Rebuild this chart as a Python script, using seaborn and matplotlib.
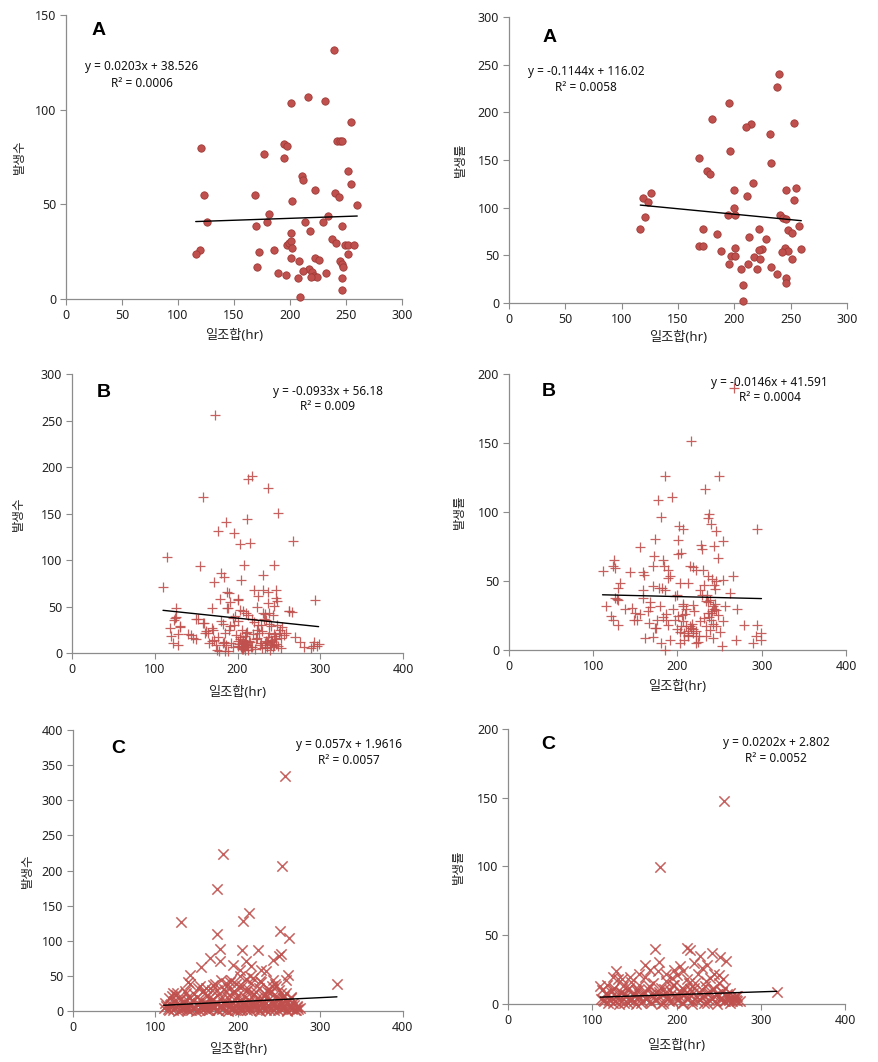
import numpy as np
import pandas as pd
import matplotlib
matplotlib.use("Agg")
import matplotlib.pyplot as plt
import seaborn as sns

# ---- data ----
# panel A, left: 발생수 vs 일조합(hr)
a1_x = [238.8, 215.6, 200.8, 231.0, 254.0, 120.6, 194.8, 197.0, 242.0, 244.4, 246.5, 176.7, 194.8,
        252.0, 211.0, 212.0, 254.8, 222.7, 123.0, 168.7, 239.7, 243.5, 201.7, 260.0, 181.0, 233.7,
        126.0, 169.3, 179.0, 213.8, 229.0, 246.8, 217.4, 200.8, 237.3, 240.9, 197.0, 199.5, 200.8,
        201.7, 249.0, 252.0, 257.5, 119.7, 115.8, 172.0, 185.3, 252.0, 200.5, 207.6, 222.4, 225.7,
        245.0, 246.8, 170.5, 247.7, 216.5, 219.2, 212.0, 188.9, 196.0, 232.0, 221.0, 223.7, 218.6,
        206.7, 246.8, 246.8, 208.5]
a1_y = [131.5, 106.7, 103.5, 104.5, 93.4, 79.7, 81.8, 80.7, 83.4, 83.4, 83.4, 76.7, 74.4,
        67.5, 64.9, 62.8, 60.6, 57.5, 55.0, 55.0, 56.0, 54.0, 51.8, 49.7, 44.8, 43.9,
        40.5, 38.6, 40.5, 40.7, 40.7, 38.4, 36.0, 34.9, 31.7, 29.6, 28.7, 29.6, 30.7,
        26.8, 28.7, 28.7, 28.7, 25.7, 23.6, 24.7, 25.9, 23.6, 21.5, 20.3, 21.7, 20.6,
        20.3, 18.7, 16.9, 16.9, 15.9, 14.3, 14.8, 13.6, 12.7, 13.6, 12.3, 11.6, 11.5,
        10.9, 10.9, 4.6, 1.1]

# panel A, right: 발생률 vs 일조합(hr)
a2_x = [239.4, 238.2, 195.6, 180.5, 215.1, 210.7, 252.7, 231.4, 196.5, 169.0, 232.9, 176.0, 178.7,
        216.9, 255.0, 246.2, 200.0, 125.8, 211.6, 119.2, 123.1, 253.3, 200.0, 194.7, 200.9, 240.9,
        243.2, 245.6, 120.7, 116.6, 171.9, 222.2, 248.0, 251.5, 257.7, 184.9, 213.3, 228.4, 168.4,
        172.0, 200.9, 259.5, 244.7, 248.0, 242.3, 224.9, 222.2, 188.5, 197.4, 200.9, 217.8, 223.1,
        251.5, 195.6, 212.5, 220.4, 206.2, 232.3, 237.6, 246.2, 246.2, 208.0, 208.0]
a2_y = [240.5, 226.8, 210.0, 193.2, 188.0, 184.8, 189.0, 177.5, 159.6, 152.3, 147.0, 138.6, 135.1,
        126.0, 120.8, 118.7, 118.7, 115.5, 112.4, 110.3, 105.7, 108.2, 99.8, 92.4, 92.4, 92.4,
        89.3, 88.2, 90.3, 77.7, 77.7, 77.7, 76.7, 73.5, 80.9, 72.5, 69.3, 67.2, 59.9,
        59.9, 57.8, 56.7, 57.8, 54.6, 53.6, 56.7, 55.7, 54.6, 49.4, 49.4, 48.3, 46.2,
        46.2, 41.0, 41.0, 35.7, 35.7, 37.8, 30.5, 26.3, 21.0, 18.9, 2.1]

# panel B, left
b1_x = [172.4, 217.5, 212.7, 236.8, 157.9, 248.9, 211.9, 186.5, 176.4, 195.8, 267.0, 203.4, 214.7,
        114.8, 154.3, 207.8, 244.5, 180.5, 184.1, 230.8, 110.0, 171.6, 204.2, 186.9, 189.7, 219.9,
        230.8, 237.3, 246.2, 224.8, 293.6, 178.8, 201.0, 190.5, 246.5, 247.7, 236.4, 125.3, 169.2,
        187.7, 223.2, 202.6, 206.6, 243.7, 262.2, 265.4, 237.7, 232.8, 210.7, 212.7,
        124.0, 126.0, 123.3, 118.0, 130.0, 128.0, 120.0, 122.0, 128.0, 140.0, 146.0, 152.0, 160.0,
        162.0, 164.0, 170.0, 172.0, 174.0, 178.0, 180.0, 182.0, 184.0, 186.0, 188.0, 190.0, 188.0,
        192.0, 194.0, 196.0, 200.0, 200.0, 202.0, 203.0, 204.0, 205.0, 207.0, 208.0, 209.0, 210.0,
        212.0, 215.0, 217.0, 218.0, 220.0, 222.0, 223.0, 225.0, 226.0, 228.0, 230.0, 231.0, 232.0,
        234.0, 235.0, 236.0, 237.0, 238.0, 240.0, 241.0, 242.0, 243.0, 244.0, 246.0, 248.0, 249.0,
        251.0, 252.0, 254.0, 256.0, 258.0, 262.0, 270.0, 275.0, 280.0, 289.0, 291.0, 293.0, 296.0,
        298.0, 130.0, 143.8, 149.4, 150.2, 158.2, 160.6, 169.1, 169.1, 175.2, 182.0, 184.5, 191.3,
        196.6, 201.0, 205.0, 206.0, 209.0, 211.0, 213.0, 207.0, 210.0, 239.0, 242.0, 244.0, 233.0,
        228.0,
        201.0, 203.0, 205.0, 206.0, 208.0, 209.0, 211.0, 213.0, 214.0, 216.0, 219.0, 221.0, 224.0,
        227.0, 229.0, 233.0, 236.0, 238.0, 239.0, 241.0, 243.0, 245.0, 247.0, 250.0, 253.0, 198.0,
        195.0, 185.0, 176.0, 166.0]
b1_y = [255.6, 190.5, 186.9, 177.2, 168.3, 150.4, 143.9, 140.7, 130.7, 128.9, 120.6, 117.0, 118.1,
        103.1, 93.4, 94.2, 94.5, 85.9, 81.3, 83.8, 70.9, 76.3, 78.8, 65.5, 64.4, 67.3,
        67.3, 65.5, 67.3, 60.9, 56.9, 58.0, 58.0, 54.8, 59.1, 55.5, 53.7, 48.0, 48.3,
        48.0, 49.0, 46.5, 45.1, 50.1, 44.7, 44.0, 43.0, 42.2, 43.0, 40.5,
        38.0, 39.0, 36.0, 27.0, 28.0, 20.0, 18.0, 11.0, 9.0, 20.0, 16.0, 37.0, 32.0,
        24.0, 21.0, 25.0, 14.0, 9.0, 2.0, 34.0, 31.0, 12.0, 9.0, 2.0, 25.0, 48.0,
        11.0, 38.0, 30.0, 57.0, 13.0, 10.0, 17.0, 7.0, 5.0, 14.0, 10.0, 3.0, 21.0,
        23.0, 12.0, 37.0, 7.0, 33.0, 15.0, 25.0, 30.0, 22.0, 11.0, 5.0, 43.0, 37.0,
        13.0, 35.0, 7.0, 17.0, 31.0, 9.0, 29.0, 12.0, 41.0, 20.0, 15.0, 30.0, 8.0,
        25.0, 16.0, 28.0, 19.0, 22.0, 45.0, 17.0, 12.0, 7.0, 5.0, 8.0, 12.0, 8.0,
        10.0, 28.6, 19.7, 15.0, 36.5, 32.2, 21.5, 26.8, 12.5, 3.6, 10.7, 1.8, 29.4,
        39.4, 34.0, 25.0, 8.0, 12.0, 9.0, 6.0, 4.0, 13.0, 10.0, 13.0, 9.0, 11.0,
        30.0,
        8.0, 15.0, 4.0, 11.0, 6.0, 18.0, 9.0, 3.0, 13.0, 7.0, 20.0, 4.0, 16.0,
        9.0, 24.0, 5.0, 12.0, 21.0, 3.0, 14.0, 6.0, 18.0, 10.0, 22.0, 5.0, 19.0,
        6.0, 22.0, 17.0, 11.0]

# panel B, right
b2_x = [267.6, 215.8, 185.8, 249.4, 232.4, 177.5, 193.7, 180.3, 237.6, 236.8, 294.5, 202.4, 207.1,
        240.3, 245.9, 243.1, 254.2, 201.2, 173.5, 228.1, 229.7, 155.8, 204.0, 201.2, 172.4, 183.0,
        124.9, 248.6, 123.8, 125.8, 111.1, 143.5, 158.9, 160.5, 184.2, 188.2, 191.3, 188.6, 171.2,
        214.6, 218.6, 222.6, 230.5, 212.7, 202.8, 236.4, 241.5, 246.3, 254.2, 266.0, 131.6, 128.9,
        159.3, 171.2, 182.2, 185.8, 226.5, 262.1, 115.0, 145.5, 167.2, 179.1, 159.3, 197.3, 206.7,
        218.6, 234.4, 242.3, 246.3, 256.2, 271.2, 121.0, 123.8, 129.7, 148.6, 166.4, 173.1, 187.0,
        189.3, 200.8, 204.8, 210.7, 214.6, 218.6, 226.5, 234.4, 238.4, 246.3, 254.2, 278.7, 294.5,
        161.3, 171.2, 180.3, 191.1, 202.8, 207.5, 212.7, 222.6, 221.8, 234.4, 242.3, 253.4, 269.2,
        290.0, 293.7, 298.8, 299.7, 185.8,
        205.0, 208.0, 212.0, 216.0, 219.0, 222.0, 226.0, 236.0, 238.0, 240.0, 241.0, 243.0, 239.0,
        235.0, 243.0, 229.0, 231.0, 244.0, 210.0, 206.0, 199.0, 183.0, 178.0, 174.0, 165.0, 156.0,
        152.0, 128.0, 126.0, 130.0, 200.0, 197.0,
        203.0, 207.0, 209.0, 213.0, 217.0, 220.0, 224.0, 232.0, 236.0, 240.0, 242.0, 245.0, 248.0,
        251.0, 195.0, 187.0, 176.0, 168.0, 150.0, 138.0]
b2_y = [189.7, 151.5, 126.4, 126.2, 116.5, 108.3, 111.0, 96.3, 98.2, 95.6, 87.6, 90.0, 87.8,
        91.2, 85.9, 75.5, 79.1, 79.4, 80.4, 76.3, 73.1, 74.6, 70.2, 69.7, 67.8, 65.4,
        65.4, 66.4, 60.6, 59.4, 57.4, 56.2, 56.2, 54.5, 60.6, 58.2, 53.3, 51.9, 61.0,
        61.0, 60.0, 58.2, 58.2, 48.5, 48.5, 53.3, 51.4, 49.9, 50.9, 53.3, 48.5, 44.9,
        43.7, 46.6, 44.9, 43.7, 43.7, 41.3, 32.1, 30.4, 31.1, 31.6, 37.6, 39.3, 31.6,
        32.8, 35.2, 31.6, 29.2, 31.6, 29.7, 24.4, 21.5, 17.9, 21.5, 19.5, 15.9, 22.0,
        18.3, 24.4, 17.1, 17.1, 17.1, 15.2, 20.8, 17.1, 14.7, 17.1, 20.8, 18.1, 18.3,
        8.7, 9.4, 5.1, 7.5, 5.1, 7.5, 9.9, 9.9, 5.1, 10.4, 8.7, 2.7, 7.0,
        5.1, 9.9, 12.3, 7.5, 0.2,
        25.0, 12.0, 14.0, 16.0, 12.0, 14.0, 10.0, 27.0, 24.0, 22.0, 28.0, 30.0, 36.0,
        40.0, 47.0, 40.0, 47.0, 44.0, 30.0, 33.0, 40.0, 24.0, 45.0, 16.0, 28.0, 26.0,
        22.0, 37.0, 38.0, 36.0, 15.0, 22.0,
        13.0, 21.0, 26.0, 11.0, 19.0, 28.0, 6.0, 23.0, 35.0, 27.0, 19.0, 33.0, 25.0,
        13.0, 30.0, 26.0, 22.0, 35.0, 27.0, 30.0]

# panel C, left
c1_x = [256.5, 181.8, 252.9, 174.5, 213.3, 206.0, 130.5, 250.5, 261.8, 174.5, 177.8, 205.2, 224.2,
        177.8, 165.6, 249.7, 252.5, 242.4, 210.1, 216.1, 193.9, 202.8, 154.7, 141.4, 139.4, 141.4,
        228.3, 234.3, 260.6, 258.4, 320.0, 153.5, 161.6, 169.7, 185.8, 191.9, 202.0, 210.1, 218.2,
        226.2, 242.4, 246.5, 121.2, 125.2, 137.4,
        110, 112, 115, 117, 118, 120, 121, 123, 125, 126, 128, 130, 131, 133, 135, 136, 138, 140,
        141, 143, 145, 147, 148, 150, 151, 153, 155, 156, 158, 160, 161, 163, 165, 166, 168, 169,
        171, 172, 174, 175, 177, 178, 180, 181, 183, 184, 186, 187, 189, 190, 192, 193, 195, 196,
        198, 199, 201, 202, 204, 205, 207, 208, 210, 211, 213, 214, 216, 217, 219, 220, 222, 223,
        225, 226, 228, 229, 231, 232, 234, 235, 237, 238, 240, 241, 243, 244, 246, 247, 249, 250,
        252, 253, 255, 256, 258, 259, 261, 262, 264, 266, 267, 269, 271, 273, 275,
        145, 158, 170, 182, 194, 206, 218, 230, 242, 254, 165, 185, 200, 215, 233, 248, 197, 212,
        227, 239,
        113, 116, 119, 122, 124, 127, 129, 132, 134, 137, 139, 142, 144, 146, 149, 152, 154, 157,
        159, 162, 164, 167, 170, 173, 176, 179, 182, 185, 188, 191, 194, 197, 200, 203, 206, 209,
        212, 215, 218, 221, 224, 227, 230, 233, 236, 239, 242, 245, 248, 251, 254, 257, 260, 263,
        265, 268, 270, 272,
        150, 160, 175, 188, 195, 205, 212, 222, 236, 245, 252, 264, 180, 198, 228, 240, 170, 215,
        256, 138]
c1_y = [335.0, 223.5, 206.0, 173.7, 139.5, 127.6, 126.2, 113.9, 103.4, 109.6, 88.3, 87.3, 86.4,
        70.7, 75.4, 77.8, 81.6, 73.1, 70.7, 63.6, 66.0, 58.8, 62.6, 51.7, 40.8, 38.9,
        57.9, 56.5, 51.7, 43.7, 38.9, 35.1, 32.7, 37.5, 39.9, 44.6, 49.3, 45.6, 47.0,
        42.2, 44.6, 35.1, 25.6, 23.2, 25.6,
        5, 12, 3, 18, 8, 22, 2, 14, 6, 26, 10, 1, 17, 5, 12, 28, 3, 20,
        8, 1, 14, 24, 5, 10, 33, 2, 16, 7, 28, 4, 12, 21, 1, 9, 30, 15,
        5, 38, 11, 2, 24, 7, 17, 3, 31, 10, 1, 20, 6, 42, 13, 3, 26, 9,
        18, 1, 35, 7, 14, 3, 22, 10, 29, 2, 16, 6, 40, 12, 3, 24, 8, 18,
        1, 33, 11, 5, 21, 14, 2, 28, 8, 17, 4, 36, 12, 1, 22, 7, 15, 30,
        3, 10, 19, 5, 25, 2, 13, 8, 18, 4, 11, 2, 7, 3, 5,
        4, 9, 8, 12, 5, 11, 9, 7, 9, 12, 18, 27, 23, 26, 24, 19, 2, 4,
        15, 26,
        7, 1, 10, 4, 13, 0, 8, 3, 11, 6, 2, 9, 16, 4, 0, 12, 6, 3,
        10, 1, 7, 14, 4, 11, 2, 8, 5, 13, 0, 9, 3, 15, 6, 1, 10, 4,
        12, 2, 7, 14, 5, 0, 11, 3, 8, 1, 13, 6, 2, 9, 4, 11, 0, 7,
        3, 9, 1, 6,
        20, 25, 30, 33, 28, 35, 31, 27, 32, 38, 25, 20, 44, 39, 41, 29, 17, 50,
        22, 16]

# panel C, right
c2_x = [256.5, 180.6, 173.9, 178.6, 212.3, 215.4, 227.3, 241.9, 251.8, 258.9, 249.8, 319.0, 128.5,
        109.5, 162.9, 196.5, 204.4, 220.2, 236.0,
        110, 112, 114, 116, 118, 120, 122, 124, 126, 128, 130, 132, 134, 136, 138, 140, 142, 144,
        146, 148, 150, 152, 154, 156, 158, 160, 162, 164, 166, 168, 170, 172, 174, 176, 178, 180,
        182, 184, 186, 188, 190, 192, 194, 196, 198, 200, 202, 204, 206, 208, 210, 212, 214, 216,
        218, 220, 222, 224, 226, 228, 230, 232, 234, 236, 238, 240, 242, 244, 246, 248, 250, 252,
        254, 256, 258, 260, 262, 264, 266, 268, 270, 272, 275,
        145, 168, 188, 208, 230, 245, 255, 135, 125, 155, 195, 215, 235,
        113, 116, 119, 122, 124, 127, 129, 132, 134, 137, 139, 142, 144, 146, 149, 152, 154, 157,
        159, 162, 164, 167, 170, 173, 176, 179, 182, 185, 188, 191, 194, 197, 200, 203, 206, 209,
        212, 215, 218, 221, 224, 227, 230, 233, 236, 239, 242, 245, 248, 251, 254, 257, 260, 263,
        265, 268, 270, 272]
c2_y = [147.4, 99.6, 40.0, 30.5, 40.7, 39.0, 34.7, 37.1, 34.2, 31.0, 21.3, 8.7, 23.8,
        12.8, 28.6, 25.0, 27.4, 29.8, 28.6,
        4, 10, 2, 7, 14, 3, 9, 1, 12, 6, 18, 3, 8, 13, 1, 6, 11, 3,
        16, 7, 2, 10, 5, 14, 1, 8, 20, 4, 11, 2, 7, 15, 3, 9, 24, 5,
        12, 1, 8, 17, 4, 10, 2, 14, 6, 21, 3, 9, 12, 1, 7, 18, 4, 11,
        2, 8, 15, 5, 22, 3, 10, 6, 13, 1, 8, 19, 4, 11, 2, 7, 15, 4,
        9, 2, 12, 6, 3, 8, 2, 5, 3, 6, 2,
        20, 25, 22, 24, 26, 22, 18, 18, 20, 22, 19, 15, 17,
        3, 8, 1, 5, 11, 2, 6, 0, 9, 4, 7, 1, 12, 3, 6, 0, 10, 5,
        2, 8, 4, 13, 1, 7, 3, 9, 0, 11, 5, 2, 8, 14, 3, 6, 1, 10,
        4, 7, 0, 12, 2, 9, 5, 1, 8, 3, 11, 6, 0, 4, 9, 2, 7, 1,
        5, 3, 6, 2]

# trend-line equations shown in the chart (slope, intercept) and their labels
slopes = [0.0203, -0.1144, -0.0933, -0.0146, 0.057, 0.0202]
intercepts = [38.526, 116.02, 56.18, 41.591, 1.9616, 2.802]
eq_labels = ["y = 0.0203x + 38.526", "y = -0.1144x + 116.02", "y = -0.0933x + 56.18",
             "y = -0.0146x + 41.591", "y = 0.057x + 1.9616", "y = 0.0202x + 2.802"]
r2_labels = ["R² = 0.0006", "R² = 0.0058", "R² = 0.009",
             "R² = 0.0004", "R² = 0.0057", "R² = 0.0052"]
panel_letters = ["A", "A", "B", "B", "C", "C"]
y_titles = ["발생수", "발생률", "발생수", "발생률", "발생수", "발생률"]
x_title = "일조합(hr)"

xs = [a1_x, a2_x, b1_x, b2_x, c1_x, c2_x]
ys = [a1_y, a2_y, b1_y, b2_y, c1_y, c2_y]

# ---- layout / style ----
sns.set_theme(style="white")
plt.rcParams["font.family"] = ["Noto Sans", "Noto Sans CJK KR", "DejaVu Sans"]

red = "#C0504D"
axes_rect = [
    [0.0751, 0.7185, 0.3823, 0.2674],
    [0.5790, 0.7147, 0.3845, 0.2693],
    [0.0819, 0.3851, 0.3766, 0.2627],
    [0.5790, 0.3880, 0.3834, 0.2599],
    [0.0830, 0.0480, 0.3754, 0.2646],
    [0.5780, 0.0546, 0.3834, 0.2590],
]
xlims = [(0, 300), (0, 300), (0, 400), (0, 400), (0, 400), (0, 400)]
xsteps = [50, 50, 100, 100, 100, 100]
ylims = [(0, 150), (0, 300), (0, 300), (0, 200), (0, 400), (0, 200)]
ysteps = [50, 50, 50, 50, 50, 50]
markers = ["o", "o", "+", "+", "x", "x"]
sizes = [28, 28, 42, 42, 55, 55]
eq_pos = [(0.226, 0.817, 0.760), (0.228, 0.811, 0.755), (0.772, 0.939, 0.883),
          (0.774, 0.970, 0.914), (0.836, 0.947, 0.891), (0.795, 0.950, 0.891)]
letter_pos = [(0.098, 0.947), (0.121, 0.930), (0.097, 0.933),
              (0.117, 0.936), (0.137, 0.935), (0.120, 0.944)]
ylabel_x = [-0.140, -0.145, -0.163, -0.148, -0.139, -0.148]
xlabel_y = [-0.127, -0.122, -0.143, -0.133, -0.135, -0.150]

fig = plt.figure(figsize=(8.79, 10.62), dpi=100)

for i in range(6):
    ax = fig.add_axes(axes_rect[i])
    df = pd.DataFrame({"x": xs[i], "y": ys[i]})
    if markers[i] == "o":
        sns.scatterplot(data=df, x="x", y="y", ax=ax, marker="o", s=sizes[i],
                        color=red, edgecolor="#9E3B38", linewidth=0.6, clip_on=False, zorder=3)
    else:
        lw = 1.1 if markers[i] == "x" else 0.9
        sns.scatterplot(data=df, x="x", y="y", ax=ax, marker=markers[i], s=sizes[i],
                        color=red, linewidth=lw, alpha=0.9, clip_on=False, zorder=3)

    # trend line from the printed equation, across the data range
    x0, x1 = df["x"].min(), df["x"].max()
    ax.plot([x0, x1], [slopes[i] * x0 + intercepts[i], slopes[i] * x1 + intercepts[i]],
            color="black", lw=1.0, zorder=4)

    ax.set_xlim(*xlims[i])
    ax.set_ylim(*ylims[i])
    ax.set_xticks(np.arange(xlims[i][0], xlims[i][1] + 1, xsteps[i]))
    ax.set_yticks(np.arange(ylims[i][0], ylims[i][1] + 1, ysteps[i]))
    for s in ["top", "right"]:
        ax.spines[s].set_visible(False)
    for s in ["left", "bottom"]:
        ax.spines[s].set_color("#8C8C8C")
        ax.spines[s].set_linewidth(0.9)
    ax.tick_params(axis="both", which="major", direction="out", length=4, width=0.8,
                   color="#8C8C8C", labelsize=9, labelcolor="#222222", pad=3,
                   bottom=True, left=True)

    ax.set_xlabel(x_title, fontsize=9.5, color="#222222", va="center")
    ax.xaxis.set_label_coords(0.5, xlabel_y[i])
    ax.set_ylabel(y_titles[i], fontsize=9, color="#222222", va="center")
    ax.yaxis.set_label_coords(ylabel_x[i], 0.5)

    ex, ey1, ey2 = eq_pos[i]
    ax.text(ex, ey1, eq_labels[i], transform=ax.transAxes, ha="center", va="center",
            fontsize=8.5, color="#111111")
    ax.text(ex, ey2, r2_labels[i], transform=ax.transAxes, ha="center", va="center",
            fontsize=8.5, color="#111111")
    lx, ly = letter_pos[i]
    ax.text(lx, ly, panel_letters[i], transform=ax.transAxes, ha="center", va="center",
            fontsize=14, fontweight="bold", family="Liberation Sans", color="black")

fig.savefig("out.png", dpi=100)
